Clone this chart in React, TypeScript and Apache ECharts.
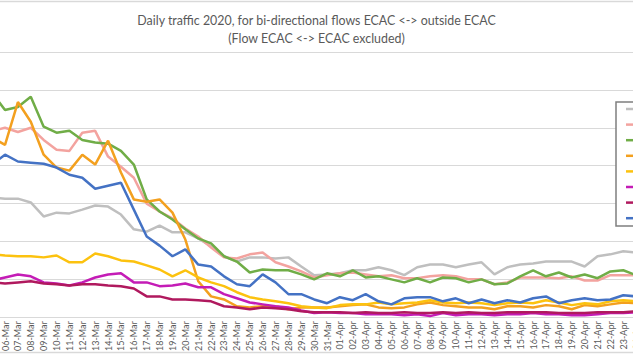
import React, { useEffect, useRef } from "react";
import * as echarts from "echarts";

const dates = [
  "05-Mar", "06-Mar", "07-Mar", "08-Mar", "09-Mar", "10-Mar", "11-Mar", "12-Mar", "13-Mar", "14-Mar",
  "15-Mar", "16-Mar", "17-Mar", "18-Mar", "19-Mar", "20-Mar", "21-Mar", "22-Mar", "23-Mar", "24-Mar",
  "25-Mar", "26-Mar", "27-Mar", "28-Mar", "29-Mar", "30-Mar", "31-Mar", "01-Apr", "02-Apr", "03-Apr",
  "04-Apr", "05-Apr", "06-Apr", "07-Apr", "08-Apr", "09-Apr", "10-Apr", "11-Apr", "12-Apr", "13-Apr",
  "14-Apr", "15-Apr", "16-Apr", "17-Apr", "18-Apr", "19-Apr", "20-Apr", "21-Apr", "22-Apr", "23-Apr",
  "24-Apr",
];

const seriesNames = [
  "Series 1",
  "Series 2",
  "Series 3",
  "Series 4",
  "Series 5",
  "Series 6",
  "Series 7",
  "Series 8",
];

const seriesColors = ["#bfbfbf", "#f3a39f", "#70ad47", "#f3a01f", "#fcc20f", "#c41cb6", "#b0195e", "#4472c4"];

const gray = [316, 313, 313, 303, 266, 276, 274, 284, 295, 292, 271, 232, 226, 242, 224, 224, 208, 187, 161, 147, 158, 158, 155, 158, 134, 111, 113, 116, 124, 124, 132, 124, 111, 132, 139, 139, 132, 139, 145, 113, 132, 139, 142, 147, 147, 147, 134, 161, 166, 174, 171];
const pink = [492, 500, 489, 500, 468, 442, 439, 487, 492, 424, 397, 368, 300, 279, 261, 234, 213, 184, 158, 155, 166, 171, 145, 134, 121, 105, 111, 116, 118, 113, 108, 111, 103, 103, 108, 111, 108, 100, 100, 87, 92, 105, 105, 105, 103, 108, 97, 97, 111, 111, 111];
const green = [592, 547, 555, 582, 503, 487, 492, 468, 461, 458, 439, 403, 311, 279, 258, 232, 208, 195, 161, 147, 118, 126, 124, 124, 113, 100, 116, 108, 124, 105, 108, 100, 92, 103, 92, 105, 103, 92, 100, 87, 89, 108, 124, 108, 118, 105, 113, 103, 121, 124, 111];
const orange = [474, 455, 568, 516, 429, 395, 387, 429, 403, 466, 382, 311, 305, 311, 276, 205, 95, 55, 47, 29, 26, 29, 29, 21, 26, 26, 26, 29, 32, 34, 26, 24, 26, 34, 39, 32, 29, 26, 26, 21, 29, 29, 26, 32, 29, 21, 32, 29, 34, 39, 37];
const yellow = [166, 163, 161, 161, 158, 163, 145, 145, 168, 161, 150, 147, 137, 126, 108, 124, 105, 92, 82, 66, 53, 47, 42, 37, 29, 26, 24, 32, 34, 34, 39, 34, 37, 39, 45, 39, 37, 39, 37, 32, 37, 39, 37, 45, 39, 32, 37, 34, 42, 45, 42];
const magenta = [97, 105, 113, 108, 92, 89, 84, 92, 105, 113, 116, 92, 92, 82, 84, 89, 79, 79, 61, 50, 39, 34, 29, 26, 18, 11, 13, 11, 11, 8, 8, 8, 5, 8, 3, 11, 5, 8, 8, 5, 8, 8, 11, 8, 8, 5, 5, 8, 11, 11, 13];
const crimson = [92, 89, 92, 95, 89, 87, 84, 87, 87, 84, 82, 76, 55, 55, 47, 47, 45, 42, 29, 26, 21, 26, 24, 21, 16, 13, 13, 13, 11, 13, 11, 11, 13, 11, 11, 13, 11, 13, 11, 11, 13, 13, 13, 13, 11, 11, 11, 13, 13, 13, 16];
const blue = [403, 429, 411, 408, 405, 395, 376, 368, 339, 347, 355, 284, 213, 189, 161, 179, 139, 134, 108, 87, 82, 113, 92, 61, 61, 47, 37, 53, 45, 61, 42, 34, 50, 53, 53, 42, 50, 37, 47, 37, 45, 39, 50, 55, 37, 45, 50, 45, 47, 58, 55];

const seriesValues = [gray, pink, green, orange, yellow, magenta, crimson, blue];

const titleText = "Daily traffic 2020, for bi-directional flows ECAC <-> outside ECAC\n(Flow ECAC <-> ECAC excluded)";

// The chart canvas is wider than the window and shifted left, so that the
// plot extends past both edges of the visible picture.
const PAD = 40;
const VIEW_W = 633;
const VIEW_H = 354;
const CHART_W = VIEW_W + 2 * PAD;

export default function App() {
  const ref = useRef<HTMLDivElement>(null);
  useEffect(() => {
    if (!ref.current) return;
    const chart = echarts.init(ref.current, null, { renderer: "svg" });
    const legendItems = seriesColors.map((c, k) => ({
      type: "line",
      shape: { x1: PAD + 626, y1: 109 + k * 15.6, x2: PAD + 641, y2: 109 + k * 15.6 },
      style: { stroke: c, lineWidth: 2.5 },
      z: 101,
    }));
    chart.setOption({
      animation: false,
      backgroundColor: "#ffffff",
      textStyle: { fontFamily: "Lato" },
      title: {
        text: titleText,
        left: "center",
        top: 6,
        textStyle: {
          fontFamily: "Lato",
          fontSize: 12.4,
          fontWeight: "normal",
          color: "#595959",
          lineHeight: 18,
        },
      },
      grid: { left: PAD - 14.3, right: PAD - 9.6, top: 52, bottom: 36, containLabel: false },
      xAxis: {
        type: "category",
        data: dates,
        boundaryGap: true,
        axisLine: { lineStyle: { color: "#d9d9d9", width: 1 } },
        axisTick: { show: false },
        axisLabel: {
          rotate: 90,
          interval: (index: number) => index > 0,
          fontSize: 9,
          color: "#595959",
          margin: 4,
          fontFamily: "Lato",
        },
      },
      yAxis: {
        type: "value",
        min: 0,
        max: 700,
        interval: 100,
        axisLabel: { show: false },
        axisLine: { show: false },
        axisTick: { show: false },
        splitLine: { lineStyle: { color: "#d9d9d9", width: 1 } },
      },
      graphic: [
        { type: "line", shape: { x1: PAD, y1: 1.5, x2: PAD + VIEW_W, y2: 1.5 }, style: { stroke: "#d9d9d9", lineWidth: 1.5 } },
        { type: "line", shape: { x1: PAD, y1: 352.5, x2: PAD + VIEW_W, y2: 352.5 }, style: { stroke: "#d9d9d9", lineWidth: 1.5 } },
        {
          type: "rect",
          shape: { x: PAD + 616, y: 102, width: 80, height: 124 },
          style: { fill: "#ffffff", stroke: "#7f7f7f", lineWidth: 1.5 },
          z: 100,
        },
        ...legendItems,
      ],
      series: seriesNames.map((name, k) => ({
        name,
        type: "line",
        data: seriesValues[k],
        symbol: "none",
        smooth: false,
        itemStyle: { color: seriesColors[k] },
        lineStyle: { color: seriesColors[k], width: 2.5 },
      })),
    });
    return () => chart.dispose();
  }, []);
  return (
    <div
      style={{
        position: "fixed",
        left: 0,
        top: 0,
        width: VIEW_W,
        height: VIEW_H,
        overflow: "hidden",
        background: "#fff",
      }}
    >
      <div
        ref={ref}
        style={{ position: "absolute", left: -PAD, top: 0, width: CHART_W, height: VIEW_H }}
      />
    </div>
  );
}
